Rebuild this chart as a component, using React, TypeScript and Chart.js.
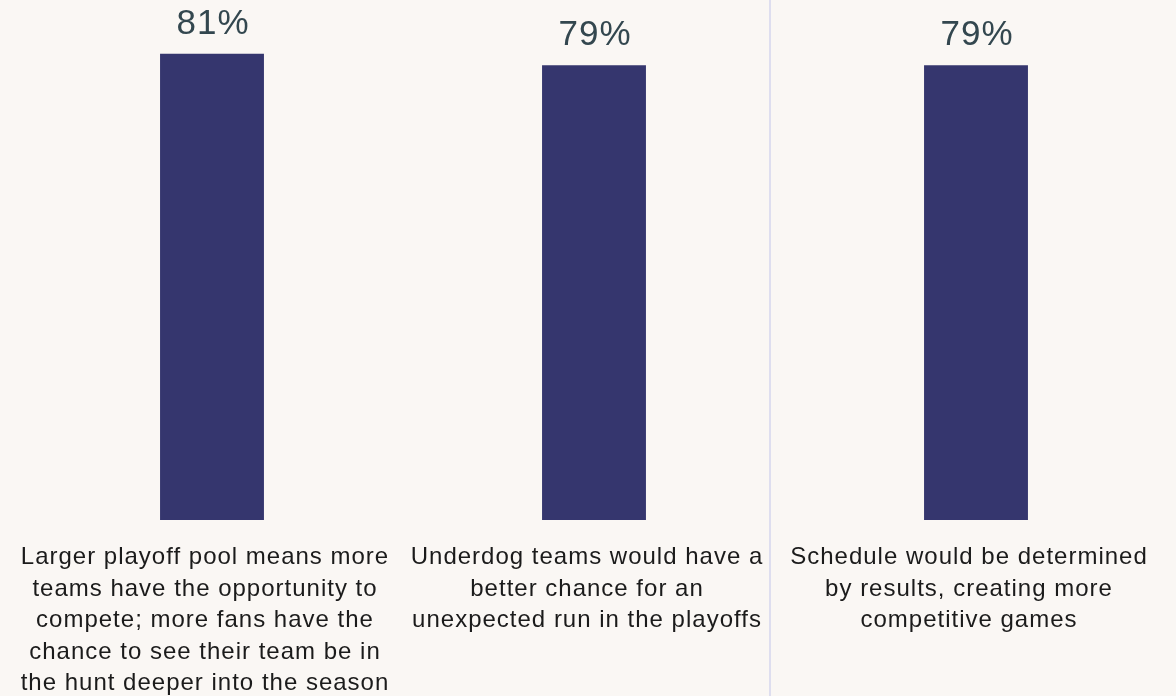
import React, { useEffect, useRef } from "react";
import { Chart, registerables } from "chart.js";

Chart.register(...registerables);

const categories: string[][] = [
  [
    "Larger playoff pool means more",
    "teams have the opportunity to",
    "compete; more fans have the",
    "chance to see their team be in",
    "the hunt deeper into the season",
  ],
  ["Underdog teams would have a", "better chance for an", "unexpected run in the playoffs"],
  ["Schedule would be determined", "by results, creating more", "competitive games"],
];
const values: number[] = [81, 79, 79];
const valueLabels: string[] = values.map((v) => `${v}%`);
const DIVIDER_AT = 1.46;

const FONT = "'Liberation Sans', Arial, Helvetica, sans-serif";
const BG = "#faf7f4";
const BAR = "#35366e";

const dividerPlugin = {
  id: "divider",
  beforeDraw(chart: any) {
    const ctx = chart.ctx;
    const x = chart.scales.x;
    const p1 = x.getPixelForValue(1);
    const p2 = x.getPixelForValue(2);
    const px = Math.round(p1 + (p2 - p1) * (DIVIDER_AT - 1));
    ctx.save();
    ctx.strokeStyle = "#dedeef";
    ctx.lineWidth = 2;
    ctx.beginPath();
    ctx.moveTo(px, 0);
    ctx.lineTo(px, chart.height);
    ctx.stroke();
    ctx.restore();
    ctx.letterSpacing = "1px";
  },
  afterDraw(chart: any) {
    chart.ctx.letterSpacing = "0px";
  },
};

const valueLabelPlugin = {
  id: "valueLabels",
  afterDatasetsDraw(chart: any) {
    const ctx = chart.ctx;
    const meta = chart.getDatasetMeta(0);
    ctx.save();
    ctx.letterSpacing = "1px";
    ctx.font = `35px ${FONT}`;
    ctx.fillStyle = "#33474f";
    ctx.textAlign = "center";
    ctx.textBaseline = "alphabetic";
    meta.data.forEach((bar: any, i: number) => {
      ctx.fillText(valueLabels[i], bar.x + 1, bar.y - 20);
    });
    ctx.restore();
  },
};

export default function App() {
  const ref = useRef<HTMLCanvasElement | null>(null);

  useEffect(() => {
    if (!ref.current) return;
    const chart = new Chart(ref.current, {
      type: "bar",
      data: {
        labels: categories,
        datasets: [
          {
            data: values,
            backgroundColor: BAR,
            borderWidth: 0,
            barPercentage: 0.272,
            categoryPercentage: 1,
          },
        ],
      },
      options: {
        animation: false,
        responsive: false,
        maintainAspectRatio: false,
        layout: { padding: { left: 21, right: 9, top: 2, bottom: 0 } },
        plugins: { legend: { display: false }, tooltip: { enabled: false } },
        scales: {
          x: {
            grid: { display: false },
            border: { display: false },
            ticks: {
              autoSkip: false,
              maxRotation: 0,
              minRotation: 0,
              padding: 14,
              labelOffset: -7,
              color: "#1b1b1b",
              font: { family: FONT, size: 24, lineHeight: "31.5px" },
            },
            afterFit: (s: any) => {
              s.height = 176;
            },
          },
          y: { display: false, min: 0, max: 90 },
        },
      },
      plugins: [dividerPlugin, valueLabelPlugin],
    });
    return () => chart.destroy();
  }, []);

  return (
    <div
      style={{
        position: "fixed",
        left: 0,
        top: 0,
        width: 1176,
        height: 696,
        background: BG,
      }}
    >
      <canvas ref={ref} width={1176} height={696} style={{ display: "block" }} />
    </div>
  );
}
